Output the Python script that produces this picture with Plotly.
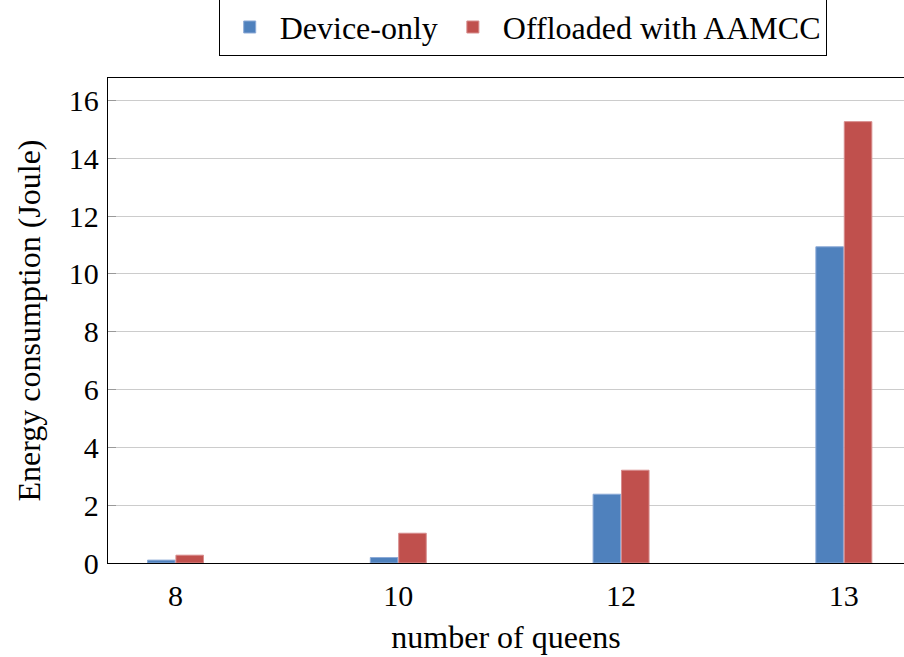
import plotly.graph_objects as go

categories = ["8", "10", "12", "13"]
device_only = [0.10, 0.19, 2.38, 10.94]
offloaded = [0.27, 1.03, 3.21, 15.27]
y_ticks = [0, 2, 4, 6, 8, 10, 12, 14, 16]

FONT = "Liberation Serif"
BLUE = "#4F81BD"
RED = "#C0504D"

fig = go.Figure()
fig.add_trace(go.Bar(x=categories, y=device_only, name="Device-only",
                     marker=dict(color=BLUE, line=dict(color="rgba(140,170,215,1)", width=1))))
fig.add_trace(go.Bar(x=categories, y=offloaded, name="Offloaded with AAMCC",
                     marker=dict(color=RED, line=dict(color="rgba(215,140,140,1)", width=1))))

fig.update_layout(
    width=904, height=657,
    margin=dict(l=108, r=0, t=78, b=94, autoexpand=False),
    paper_bgcolor="white", plot_bgcolor="white",
    barmode="group", bargap=0.745, bargroupgap=0.03,
    font=dict(family=FONT, size=30, color="black"),
    legend=dict(orientation="h", x=0.521, xanchor="center", y=1.046, yanchor="bottom",
                bordercolor="black", borderwidth=1, bgcolor="white",
                font=dict(family=FONT, size=32, color="black"),
                itemwidth=50, tracegroupgap=0),
    xaxis=dict(type="category", range=[-0.303, 3.27],
               showline=True, linecolor="black", linewidth=1.3, mirror=True,
               ticks="", showgrid=False, ticklabelstandoff=6,
               tickfont=dict(family=FONT, size=30),
               title=dict(text="number of queens", font=dict(family=FONT, size=32), standoff=14)),
    yaxis=dict(range=[0, 16.78], tickvals=y_ticks,
               showline=True, linecolor="black", linewidth=1.3, mirror=False,
               ticks="inside", ticklen=8, tickcolor="#999999", tickwidth=1,
               showgrid=True, gridcolor="#cccccc", gridwidth=1, zeroline=False,
               ticklabelstandoff=2,
               tickfont=dict(family=FONT, size=30),
               title=dict(text="Energy consumption (Joule)", font=dict(family=FONT, size=32), standoff=18)),
)

fig.write_html("out.html")
